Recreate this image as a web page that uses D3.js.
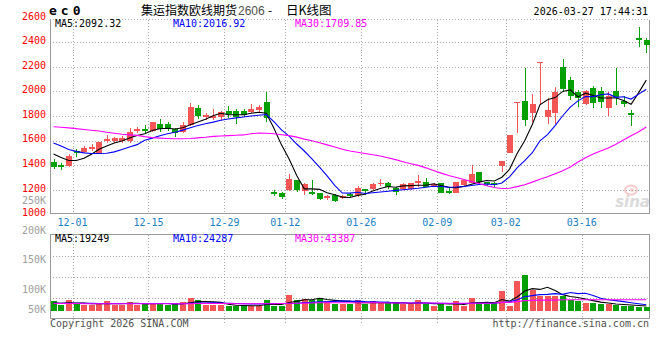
<!DOCTYPE html>
<html>
<head>
<meta charset="utf-8">
<script src="https://cdn.jsdelivr.net/npm/d3@7"></script>
<style>
  body { margin: 0; background: #fff; }
  svg { display: block; }
  text { font-family: "DejaVu Sans Mono", "Liberation Mono", monospace; font-size: 10px; }
</style>
</head>
<body>
<div id="chart"></div>
<script>
// Trading days on the chart
var dates = [
  "2025-11-27", "2025-11-28",
  "2025-12-01", "2025-12-02", "2025-12-03", "2025-12-04", "2025-12-05",
  "2025-12-08", "2025-12-09", "2025-12-10", "2025-12-11", "2025-12-12",
  "2025-12-15", "2025-12-16", "2025-12-17", "2025-12-18", "2025-12-19",
  "2025-12-22", "2025-12-23", "2025-12-24", "2025-12-25", "2025-12-26",
  "2025-12-29", "2025-12-30", "2025-12-31",
  "2026-01-05", "2026-01-06", "2026-01-07", "2026-01-08", "2026-01-09",
  "2026-01-12", "2026-01-13", "2026-01-14", "2026-01-15", "2026-01-16",
  "2026-01-19", "2026-01-20", "2026-01-21", "2026-01-22", "2026-01-23",
  "2026-01-26", "2026-01-27", "2026-01-28", "2026-01-29", "2026-01-30",
  "2026-02-02", "2026-02-03", "2026-02-04", "2026-02-05", "2026-02-06",
  "2026-02-09", "2026-02-10", "2026-02-11", "2026-02-12", "2026-02-13",
  "2026-02-24", "2026-02-25", "2026-02-26", "2026-02-27",
  "2026-03-02", "2026-03-03", "2026-03-04", "2026-03-05", "2026-03-06",
  "2026-03-09", "2026-03-10", "2026-03-11", "2026-03-12", "2026-03-13",
  "2026-03-16", "2026-03-17", "2026-03-18", "2026-03-19", "2026-03-20",
  "2026-03-23", "2026-03-24", "2026-03-25", "2026-03-26", "2026-03-27"
];

var open = [1428, 1401, 1393, 1512, 1504, 1534, 1501, 1599, 1596, 1600,
  1599, 1675, 1692, 1681, 1738, 1738, 1694, 1670, 1729, 1865,
  1789, 1781, 1795, 1841, 1841, 1841, 1830, 1846, 1917, 1178,
  1170, 1197, 1276, 1189, 1184, 1171, 1134, 1157, 1134, 1165,
  1157, 1206, 1203, 1244, 1257, 1211, 1203, 1203, 1252, 1260,
  1230, 1252, 1192, 1176, 1238, 1252, 1341, 1260, 1252, 1393,
  1501, 1905, 1922, 1822, 2230, 1794, 1822, 2199, 2093, 1998,
  1897, 2030, 2003, 1868, 2003, 1922, 1821, 2438, 2419];

var high = [1447, 1415, 1491, 1528, 1556, 1569, 1588, 1643, 1632, 1634,
  1702, 1708, 1730, 1751, 1778, 1754, 1705, 1751, 1908, 1887,
  1827, 1857, 1841, 1881, 1857, 1857, 1895, 1890, 1993, 1195,
  1184, 1325, 1276, 1252, 1276, 1176, 1160, 1165, 1160, 1172,
  1230, 1206, 1252, 1284, 1263, 1219, 1252, 1257, 1320, 1293,
  1257, 1252, 1211, 1265, 1284, 1401, 1341, 1265, 1265, 1436,
  1645, 1911, 2188, 1979, 2237, 1949, 2039, 2261, 2120, 2012,
  2012, 2047, 2039, 1998, 2188, 1965, 1849, 2527, 2432];

var low = [1366, 1360, 1382, 1469, 1501, 1518, 1496, 1577, 1577, 1582,
  1583, 1659, 1653, 1672, 1670, 1681, 1632, 1664, 1719, 1773,
  1767, 1767, 1759, 1781, 1738, 1792, 1824, 1830, 1748, 1146,
  1127, 1189, 1178, 1157, 1157, 1120, 1118, 1102, 1125, 1140,
  1143, 1157, 1198, 1230, 1203, 1157, 1198, 1198, 1225, 1219,
  1225, 1170, 1165, 1170, 1230, 1252, 1238, 1230, 1211, 1347,
  1501, 1659, 1721, 1754, 1889, 1735, 1735, 1998, 1930, 1870,
  1889, 1868, 1862, 1803, 1889, 1876, 1721, 2364, 2310];

var close = [1385, 1387, 1477, 1496, 1537, 1550, 1586, 1610, 1618, 1622,
  1670, 1692, 1675, 1751, 1692, 1692, 1659, 1729, 1873, 1800,
  1805, 1803, 1830, 1816, 1795, 1808, 1860, 1873, 1781, 1165,
  1143, 1284, 1197, 1244, 1165, 1123, 1150, 1111, 1152, 1148,
  1211, 1192, 1244, 1257, 1225, 1184, 1246, 1252, 1274, 1225,
  1244, 1176, 1176, 1260, 1279, 1328, 1265, 1244, 1238, 1436,
  1645, 1911, 1767, 1897, 2237, 1849, 1998, 2017, 1965, 1944,
  2006, 1903, 1916, 1963, 1957, 1897, 1808, 2416, 2378];

// price moving averages
var ma5 = [1490, 1462, 1438, 1438, 1456, 1489, 1529, 1556, 1580, 1597,
  1621, 1642, 1655, 1682, 1696, 1700, 1694, 1705, 1729, 1751,
  1773, 1802, 1822, 1811, 1810, 1810, 1822, 1830, 1823, 1700,
  1565, 1450, 1315, 1207, 1207, 1203, 1176, 1159, 1140, 1137,
  1154, 1163, 1189, 1210, 1226, 1220, 1231, 1233, 1236, 1236,
  1248, 1234, 1219, 1216, 1227, 1244, 1262, 1275, 1271, 1302,
  1366, 1495, 1599, 1731, 1891, 1932, 1950, 2000, 2013, 1955,
  1986, 1967, 1947, 1946, 1949, 1927, 1895, 1990, 2092];

var ma10 = [1580, 1555, 1528, 1512, 1500, 1495, 1495, 1497, 1508, 1527,
  1548, 1567, 1603, 1620, 1640, 1655, 1668, 1685, 1705, 1722,
  1737, 1750, 1765, 1775, 1785, 1792, 1800, 1806, 1812, 1754,
  1687, 1636, 1572, 1515, 1452, 1384, 1313, 1236, 1173, 1172,
  1179, 1169, 1175, 1182, 1188, 1195, 1200, 1206, 1212, 1220,
  1228, 1226, 1220, 1222, 1226, 1235, 1242, 1246, 1240, 1255,
  1305, 1378, 1437, 1501, 1597, 1649, 1722, 1802, 1872, 1923,
  1959, 1958, 1973, 1980, 1952, 1957, 1938, 1978, 2017];

var ma30 = [1712, 1708, 1703, 1697, 1690, 1684, 1678, 1668, 1660, 1651,
  1646, 1642, 1632, 1624, 1620, 1617, 1615, 1615, 1617, 1622,
  1627, 1634, 1637, 1640, 1643, 1646, 1655, 1662, 1660, 1655,
  1648, 1640, 1628, 1612, 1598, 1582, 1565, 1548, 1530, 1515,
  1505, 1495, 1485, 1474, 1460, 1445, 1428, 1412, 1398, 1378,
  1356, 1335, 1315, 1300, 1283, 1266, 1250, 1232, 1218, 1210,
  1212, 1225, 1240, 1262, 1285, 1305, 1330, 1355, 1385, 1425,
  1460, 1490, 1515, 1540, 1570, 1605, 1640, 1672, 1710];

// traded volume (lots)
var volume = [38000, 23000, 42000, 28000, 22000, 23000, 30000, 38000, 25000, 24000,
  36000, 22000, 28000, 29000, 28000, 22000, 27000, 34000, 51000, 42000,
  24000, 22000, 22000, 20000, 20000, 20000, 21000, 20000, 42000, 20000,
  21000, 62000, 42000, 46000, 42000, 51000, 38000, 27000, 27000, 26000,
  42000, 27000, 38000, 30000, 30000, 34000, 26000, 26000, 42000, 27000,
  19000, 30000, 19000, 38000, 19000, 49000, 34000, 26000, 34000, 78000,
  19000, 115000, 139000, 81000, 59000, 59000, 59000, 59000, 42000, 40000,
  30000, 30000, 28000, 27000, 22000, 20000, 20000, 17000, 17000];

var vma5 = [31000, 30000, 32000, 31000, 31000, 28000, 29000, 28000, 29000, 28000,
  30000, 30000, 28000, 28000, 29000, 29000, 27000, 28000, 32000, 36000,
  36000, 35000, 33000, 26000, 22000, 21000, 20000, 20000, 25000, 25000,
  25000, 33000, 37000, 43000, 43000, 49000, 44000, 41000, 38000, 38000,
  32000, 32000, 32000, 32000, 33000, 31000, 32000, 29000, 32000, 31000,
  28000, 29000, 27000, 27000, 25000, 31000, 32000, 33000, 32000, 44000,
  38000, 54000, 77000, 86000, 83000, 91000, 79000, 63000, 56000, 52000,
  46000, 40000, 34000, 31000, 27000, 25000, 23000, 21000, 19249];

var vma10 = [30000, 30000, 30000, 30000, 30000, 30000, 29000, 29000, 29000, 29000,
  29000, 29000, 29000, 29000, 29000, 29000, 28000, 28000, 30000, 31000,
  31000, 32000, 31000, 30000, 29000, 28000, 27000, 27000, 28000, 29000,
  29000, 29000, 30000, 32000, 33000, 35000, 35000, 37000, 39000, 37000,
  38000, 36000, 35000, 34000, 33000, 32000, 32000, 31000, 32000, 31000,
  30000, 30000, 29000, 29000, 29000, 30000, 30000, 30000, 30000, 33000,
  35000, 43000, 55000, 59000, 63000, 64000, 67000, 64000, 71000, 67000,
  68000, 60000, 49000, 43000, 40000, 36000, 32000, 28000, 24287];

var vma30 = [29000, 29000, 29000, 29000, 28000, 28000, 28000, 28000, 28000, 28000,
  28000, 28000, 28000, 28000, 28000, 28000, 28000, 28000, 28000, 29000,
  29000, 29000, 29000, 29000, 28000, 28000, 28000, 28000, 28000, 28000,
  29000, 30000, 30000, 30000, 31000, 32000, 32000, 32000, 32000, 32000,
  32000, 32000, 32000, 32000, 31000, 31000, 31000, 31000, 31000, 31000,
  31000, 30000, 30000, 30000, 30000, 30000, 30000, 30000, 31000, 33000,
  33000, 36000, 40000, 41000, 42000, 42000, 42000, 43000, 43000, 43000,
  43000, 43000, 43000, 43000, 43000, 43000, 43000, 43000, 43387];

// axis ticks and legend text
var priceTicks = [1000, 1200, 1400, 1600, 1800, 2000, 2200, 2400, 2600];
var volTickLabels = ["250K", "200K", "150K", "100K", "50K"];
var dateTicks = ["2025-12-01", "2025-12-15", "2025-12-29", "2026-01-12",
  "2026-01-26", "2026-02-09", "2026-03-02", "2026-03-16"];
var maNames = ["MA5", "MA10", "MA30"];
var maLast = ["2092.32", "2016.92", "1709.85"];
var volMaLast = ["19249", "24287", "43387"];

var titleParts = ["集运指数欧线期货", "2606", "-", "日K线图"];
var stamp = "2026-03-27 17:44:31";

// Layout
var width = 660, height = 360;
var plotLeft = 50, plotRight = 649.5;
var mainTop = 19.5, mainBottom = 213.5;
var volTop = 234.5, volBottom = 318.5;
var legendX = [55, 173, 295];
var titleX = [141, 238, 268, 286];
var maColors = ["#000000", "#0000ff", "#ff00ff"];
var upColor = "#f45656", downColor = "#05a005";
var gridColor = "#a8a8a8", frameColor = "#999999";

var rows = dates.map(function(d, i) {
    return {date: d, open: open[i], high: high[i], low: low[i], close: close[i],
        volume: volume[i], ma: [ma5[i], ma10[i], ma30[i]], vma: [vma5[i], vma10[i], vma30[i]]};
});

var svg = d3.select("#chart").append("svg")
    .attr("width", width)
    .attr("height", height);

// Scales
var xScale = d3.scaleBand().domain(dates).range([49.7, 650.1]);
var step = xScale.step();
var cx = function(d) { return xScale(d) + step / 2; };
var barW = 5.6;

var yScale = d3.scaleLinear().domain([1000, 2600]).range([214.3, 17.7]);
var vScale = d3.scaleLinear().domain([0, 100000]).range([311, 285]);

var colorOf = function(d) { return d.close >= d.open ? upColor : downColor; };

// Grid lines
var grid = svg.append("g").attr("shape-rendering", "crispEdges")
    .attr("stroke", gridColor).attr("stroke-dasharray", "1,2");

grid.selectAll("line.h").data(priceTicks.slice(1, -1)).enter().append("line")
    .attr("x1", plotLeft).attr("x2", plotRight)
    .attr("y1", function(d) { return Math.round(yScale(d)) + 0.5; })
    .attr("y2", function(d) { return Math.round(yScale(d)) + 0.5; });

grid.append("line")
    .attr("x1", plotLeft).attr("x2", plotRight)
    .attr("y1", mainTop).attr("y2", mainTop);

grid.selectAll("line.vm").data(dateTicks).enter().append("line")
    .attr("x1", function(d) { return Math.round(xScale(d) + step) + 0.5; })
    .attr("x2", function(d) { return Math.round(xScale(d) + step) + 0.5; })
    .attr("y1", mainTop).attr("y2", mainBottom);

grid.selectAll("line.vv").data(dateTicks).enter().append("line")
    .attr("x1", function(d) { return Math.round(xScale(d) + step) + 0.5; })
    .attr("x2", function(d) { return Math.round(xScale(d) + step) + 0.5; })
    .attr("y1", volTop).attr("y2", volBottom + 4);

// volume panel is split in quarters
grid.selectAll("line.vh").data([1, 2, 3]).enter().append("line")
    .attr("x1", plotLeft).attr("x2", plotRight)
    .attr("y1", function(k) { return Math.round(volTop + k * (volBottom - volTop) / 4) + 0.5; })
    .attr("y2", function(k) { return Math.round(volTop + k * (volBottom - volTop) / 4) + 0.5; });

// Frames
var frame = svg.append("g").attr("shape-rendering", "crispEdges")
    .attr("stroke", frameColor).attr("fill", "none");
frame.append("path")
    .attr("d", "M" + plotLeft + "," + mainTop + "V" + mainBottom + "H" + plotRight + "V" + mainTop);
frame.append("rect")
    .attr("x", plotLeft).attr("y", volTop)
    .attr("width", plotRight - plotLeft).attr("height", volBottom - volTop);

// Watermark
var wm = svg.append("g").attr("opacity", 0.55);
wm.append("ellipse").attr("cx", 631).attr("cy", 190).attr("rx", 6).attr("ry", 4.5)
    .attr("fill", "none").attr("stroke", "#f2a0a0").attr("stroke-width", 2);
wm.append("circle").attr("cx", 632).attr("cy", 190).attr("r", 1.8).attr("fill", "#f2a0a0");
wm.append("text").attr("x", 650).attr("y", 207).attr("text-anchor", "end")
    .style("font-family", "'DejaVu Sans', sans-serif").style("font-size", "15px")
    .style("font-style", "italic").style("font-weight", "bold")
    .attr("fill", "#bdbdbd").text("sina");

// Candles
var candles = svg.append("g").attr("shape-rendering", "crispEdges");
candles.selectAll("line").data(rows).enter().append("line")
    .attr("x1", function(d) { return Math.round(cx(d.date)) + 0.5; })
    .attr("x2", function(d) { return Math.round(cx(d.date)) + 0.5; })
    .attr("y1", function(d) { return yScale(d.high); })
    .attr("y2", function(d) { return yScale(d.low); })
    .attr("stroke", colorOf);

candles.selectAll("rect").data(rows).enter().append("rect")
    .attr("x", function(d) { return Math.round(cx(d.date) - barW / 2); })
    .attr("width", barW)
    .attr("y", function(d) { return yScale(Math.max(d.open, d.close)); })
    .attr("height", function(d) { return Math.max(1, Math.abs(yScale(d.open) - yScale(d.close))); })
    .attr("fill", colorOf);

// Volume bars
svg.append("g").attr("shape-rendering", "crispEdges")
    .selectAll("rect").data(rows).enter().append("rect")
    .attr("x", function(d) { return Math.round(cx(d.date) - barW / 2); })
    .attr("width", barW)
    .attr("y", function(d) { return vScale(d.volume); })
    .attr("height", function(d) { return vScale(0) - vScale(d.volume); })
    .attr("fill", colorOf);

// Moving average lines
maColors.forEach(function(color, k) {
    var priceLine = d3.line()
        .x(function(d) { return cx(d.date); })
        .y(function(d) { return yScale(d.ma[k]); });
    svg.append("path").datum(rows)
        .attr("d", priceLine)
        .attr("fill", "none").attr("stroke", color).attr("stroke-width", 1.1);

    var volLine = d3.line()
        .x(function(d) { return cx(d.date); })
        .y(function(d) { return vScale(d.vma[k]); });
    svg.append("path").datum(rows)
        .attr("d", volLine)
        .attr("fill", "none").attr("stroke", color).attr("stroke-width", 1.1);
});

// Price labels
svg.selectAll("text.price").data(priceTicks).enter().append("text")
    .attr("x", 46).attr("y", function(d) { return yScale(d) + 1.8; })
    .attr("text-anchor", "end").attr("fill", "#ff0000")
    .text(function(d) { return d; });

// Volume labels (Sina stacks them from the bottom of the price panel)
svg.selectAll("text.vol").data(volTickLabels).enter().append("text")
    .attr("x", 46)
    .attr("y", function(d, k) { return Math.min(204 + k * 29.7, volBottom - 5.5); })
    .attr("text-anchor", "end").attr("fill", "#a0a0a0")
    .text(function(d) { return d; });

// Date labels
svg.selectAll("text.date").data(dateTicks).enter().append("text")
    .attr("x", function(d) { return xScale(d) + step; })
    .attr("y", 225.5)
    .attr("text-anchor", "middle").attr("fill", "#1b80c6")
    .text(function(d) { return d.slice(5); });

// Legends
maNames.forEach(function(name, k) {
    svg.append("text").attr("x", legendX[k]).attr("y", 26.5)
        .attr("fill", maColors[k]).text(name + ":" + maLast[k]);
    svg.append("text").attr("x", legendX[k]).attr("y", 241.5)
        .attr("fill", maColors[k]).text(name + ":" + volMaLast[k]);
});

// Header
svg.append("text").attr("x", 49).attr("y", 15)
    .style("font-size", "13px").style("font-weight", "bold")
    .style("letter-spacing", "4px").text("ec0");

var titleText = svg.append("text").attr("y", 15)
    .style("font-family", "'Noto Sans CJK SC', sans-serif").style("font-size", "12px")
    .attr("fill", "#000");
titleParts.forEach(function(part, k) {
    titleText.append("tspan").attr("x", titleX[k])
        .attr("fill", k === 1 ? "#505050" : "#000")
        .style("font-family", k === 1 ? "'Liberation Sans', sans-serif" : null)
        .style("font-size", k === 3 ? "12.5px" : null)
        .text(part);
});

svg.append("text").attr("x", 648).attr("y", 15)
    .attr("text-anchor", "end").attr("fill", "#000").text(stamp);

// Footer
svg.append("text").attr("x", 50).attr("y", 326.5)
    .attr("fill", "#505050").text("Copyright 2026 SINA.COM");
svg.append("text").attr("x", 649).attr("y", 326.5)
    .attr("text-anchor", "end").attr("fill", "#505050").text("http://finance.sina.com.cn");
</script>
</body>
</html>
